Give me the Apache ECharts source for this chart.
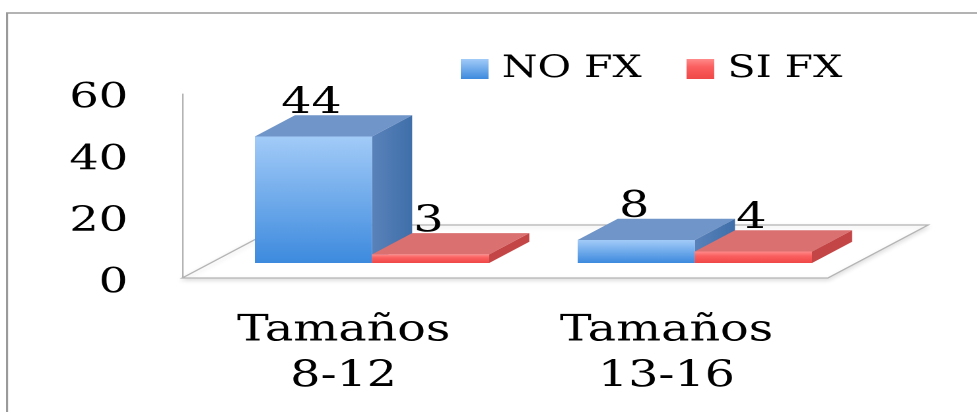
<!DOCTYPE html>
<html>
<head>
<meta charset="utf-8">
<script src="https://cdn.jsdelivr.net/npm/echarts@6/dist/echarts.min.js"></script>
<style>
  html, body { margin: 0; padding: 0; background: #fff; overflow: hidden; }
  /* the source picture is stretched sideways, so the chart is drawn narrow and widened */
  #chart { width: 740px; height: 412px; transform: scaleX(1.3203); transform-origin: 0 0; }
</style>
</head>
<body>
<div id="chart"></div>
<script>
const categories = ['Tamaños\n8-12', 'Tamaños\n13-16'];
const seriesNames = ['NO FX', 'SI FX'];
const noFx = [44, 8];
const siFx = [3, 4];
const yTicks = { min: 0, max: 60, interval: 20 };

const FONT = 'DejaVu Serif';
const DEPTH = [76, -53];            // floor depth vector
const FRONT = [DEPTH[0] * 0.283, DEPTH[1] * 0.283];
const BOX = [DEPTH[0] * 0.40, DEPTH[1] * 0.40];
const BAR_FRAC = 0.363;

const palettes = [
  {
    front: new echarts.graphic.LinearGradient(0, 0, 0, 1, [
      { offset: 0, color: '#a2cbf8' }, { offset: 1, color: '#3d8ade' }]),
    top: '#7095c9',
    side: new echarts.graphic.LinearGradient(0, 0, 1, 0, [
      { offset: 0, color: '#5a82ba' }, { offset: 1, color: '#3f6fa9' }]),
  },
  {
    front: new echarts.graphic.LinearGradient(0, 0, 0, 1, [
      { offset: 0, color: '#ff8a8a' }, { offset: 0.4, color: '#fb5f5f' }, { offset: 1, color: '#f04848' }]),
    top: '#da7070',
    side: '#c44545',
  },
];

function floorItem(params) {
  const cs = params.coordSys;
  const x0 = cs.x, x1 = cs.x + cs.width, y = cs.y + cs.height;
  return {
    type: 'polygon',
    shape: { points: [[x0, y], [x1, y], [x1 + DEPTH[0], y + DEPTH[1]], [x0 + DEPTH[0], y + DEPTH[1]]] },
    style: { fill: '#fff', stroke: '#b4b4b4', lineWidth: 1.2, shadowBlur: 4, shadowColor: 'rgba(0,0,0,0.12)', shadowOffsetY: 2 },
  };
}

function barItem(order) {
  const pal = palettes[order];
  return function (params, api) {
    const idx = api.value(0);
    const v = api.value(1);
    const base = api.coord([idx, 0]);
    const top = api.coord([idx, v]);
    const bw = api.size([1, 0])[0] * BAR_FRAC;
    const x0 = base[0] + FRONT[0] - (order === 0 ? bw : 0);
    const yb = base[1] + FRONT[1];
    const yt = top[1] + FRONT[1];
    const x1 = x0 + bw;
    return {
      type: 'group',
      children: [
        {
          type: 'polygon',
          shape: { points: [[x1, yt], [x1 + BOX[0], yt + BOX[1]], [x1 + BOX[0], yb + BOX[1]], [x1, yb]] },
          style: { fill: pal.side },
        },
        {
          type: 'polygon',
          shape: { points: [[x0, yt], [x1, yt], [x1 + BOX[0], yt + BOX[1]], [x0 + BOX[0], yt + BOX[1]]] },
          style: { fill: pal.top },
        },
        {
          type: 'rect',
          shape: { x: x0, y: yt, width: bw, height: yb - yt },
          style: { fill: pal.front },
        },
        {
          type: 'text',
          x: x0 + bw / 2 - 1.5,
          y: yt + BOX[1] - 11,
          style: {
            text: String(v), fill: '#000', font: '36px "' + FONT + '"',
            align: 'center', verticalAlign: 'middle',
          },
        },
      ],
    };
  };
}

const chart = echarts.init(document.getElementById('chart'), null, { devicePixelRatio: 2 });

chart.setOption({
  backgroundColor: '#fff',
  animation: false,
  graphic: [{
    type: 'rect',
    shape: { x: 5.3, y: 13, width: 900, height: 600 },
    style: { fill: 'none', stroke: '#9a9a9a', lineWidth: 1.6 },
    silent: true,
  }],
  legend: {
    data: seriesNames,
    left: 344,
    top: 47,
    icon: 'rect',
    itemWidth: 21,
    itemHeight: 20,
    itemGap: 34,
    textStyle: { fontFamily: FONT, fontSize: 31, color: '#000', lineHeight: 34, padding: [0, 0, 0, 5] },
  },
  grid: [
    { left: 138, top: 98.5, width: 489, height: 185 },
    { left: 138, top: 94, width: 489, height: 184 },
  ],
  xAxis: [
    { gridIndex: 0, type: 'category', data: categories, show: false },
    {
      gridIndex: 1,
      type: 'category',
      data: categories,
      axisLine: { show: false },
      axisTick: { show: false },
      axisLabel: { fontFamily: FONT, fontSize: 36, color: '#000', lineHeight: 46, margin: 30 },
    },
  ],
  yAxis: [
    {
      gridIndex: 0,
      type: 'value',
      min: yTicks.min,
      max: yTicks.max,
      interval: yTicks.interval,
      axisLine: { show: false },
      axisTick: { show: false },
      splitLine: { show: false },
      axisLabel: { fontFamily: FONT, fontSize: 35, color: '#000', margin: 41 },
    },
    {
      gridIndex: 1,
      type: 'value',
      min: 0,
      max: 64,
      axisLine: { show: true, lineStyle: { color: '#b0b0b0', width: 1 } },
      axisTick: { show: false },
      splitLine: { show: false },
      axisLabel: { show: false },
    },
  ],
  series: [
    {
      type: 'custom',
      name: 'floor',
      xAxisIndex: 1,
      yAxisIndex: 1,
      data: [[0, 0]],
      renderItem: floorItem,
      silent: true,
      z: 1,
    },
    {
      type: 'custom',
      name: seriesNames[0],
      xAxisIndex: 1,
      yAxisIndex: 1,
      data: noFx.map((v, i) => [i, v]),
      encode: { x: 0, y: 1 },
      itemStyle: { color: palettes[0].front },
      renderItem: barItem(0),
      z: 2,
    },
    {
      type: 'custom',
      name: seriesNames[1],
      xAxisIndex: 1,
      yAxisIndex: 1,
      data: siFx.map((v, i) => [i, v]),
      encode: { x: 0, y: 1 },
      itemStyle: { color: palettes[1].front },
      renderItem: barItem(1),
      z: 3,
    },
  ],
});
</script>
</body>
</html>
